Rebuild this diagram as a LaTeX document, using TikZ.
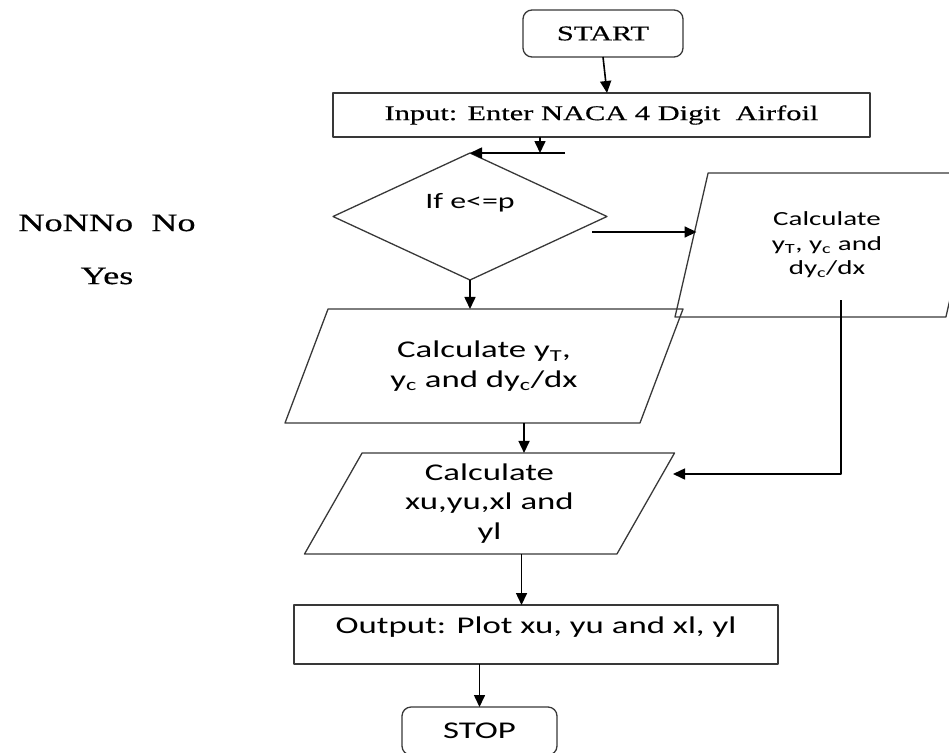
\documentclass[tikz,border=0pt]{standalone}
\usepackage{fontspec}
\usepackage{tikz}
\usetikzlibrary{arrows.meta,calc,shapes.geometric}
\newfontfamily\wideserif[FakeStretch=1.45,FakeBold=0.4]{Liberation Serif}
\newfontfamily\widesans[FakeStretch=1.45]{Carlito}

\begin{document}
\begin{tikzpicture}[x=1pt,y=-1pt,>={Triangle[length=12pt,width=11pt]},line join=round,
  outline/.style={draw=black!78,line width=1.3pt,inner sep=0pt,outer sep=0pt},
  term/.style={outline,rectangle,rounded corners=9pt},
  procbox/.style={outline,rectangle},
  decide/.style={outline,diamond},
  iobox/.style={outline,trapezium,trapezium stretches body,align=center},
  flow/.style={->,line width=1.6pt},
  serif/.style={font=\wideserif\fontsize{21}{25}\selectfont},
  bigserif/.style={font=\wideserif\fontsize{25}{30}\selectfont},
  sans/.style={font=\widesans\fontsize{24}{29.5}\selectfont},
  smallsans/.style={font=\widesans\fontsize{20}{24.5}\selectfont}]
\useasboundingbox (0,0) rectangle (949,752);
% terminals and boxes
\node[term,serif,minimum width=160,minimum height=47] (start) at (603,33.5) {START};
\node[procbox,serif,minimum width=537,minimum height=44] (input) at (601.5,115) {Input: Enter NACA 4 Digit\ \ Airfoil};
\node[decide,minimum width=274,minimum height=127] (dec) at (470,216.5) {};
\node[sans,font=\widesans\fontsize{22}{26}\selectfont] (dectxt) at ([yshift=14pt]dec.center) {If e<=p};
\node[iobox,smallsans,trapezium left angle=63.4,trapezium right angle=116.6,minimum width=304,minimum height=144] (rp) at (827,245) {Calculate\\y\textsubscript{T}, y\textsubscript{c} and\\dy\textsubscript{c}/dx};
\node[iobox,sans,trapezium left angle=49.3,trapezium right angle=130.7,minimum width=398,minimum height=114] (p1) at (484,366) {Calculate y\textsubscript{T},\\y\textsubscript{c} and dy\textsubscript{c}/dx};
\node[iobox,sans,trapezium left angle=54.1,trapezium right angle=125.9,minimum width=370,minimum height=101] (p2) at (489.5,503.5) {Calculate\\xu,yu,xl and\\yl};
\node[procbox,sans,minimum width=484,minimum height=59,text height=18,text depth=21] (out) at (536,634.5) {Output: Plot xu, yu and xl, yl};
\node[term,sans,minimum width=155,minimum height=48] (stop) at (479.5,731) {STOP};
% stray labels on the left
\node[bigserif] (lbno) at (107,223) {NoNNo\ \ No};
\node[bigserif] (lbyes) at (107,276) {Yes};
% connectors
\coordinate (merge) at (540,153);
\coordinate (nofrom) at (592,232);
\coordinate (rpout) at (841,300);
\coordinate (rpin) at (673,474);
\path ($(p1.south)+(40,0)$) coordinate (p1out);
\path ($(p2.south)+(32,0)$) coordinate (p2out);
\draw[flow] (start.south) -- ([xshift=4pt]start.south |- input.north);
\draw[flow] (input.south -| merge) -- (merge);
\draw[flow] ([xshift=25pt]merge) -- (dec.north);
\draw[flow] (nofrom) -- ($(nofrom -| rp.west)+(5,0)$);
\draw[flow] (dec.south) -- (dec.south |- p1.north);
\draw[flow] (rpout) |- (rpin);
\draw[flow] (p1out) -- (p1out |- p2.north);
\draw[flow] (p2out) -- (p2out |- out.north);
\draw[flow] (stop.north |- out.south) -- (stop.north);
\end{tikzpicture}
\end{document}
